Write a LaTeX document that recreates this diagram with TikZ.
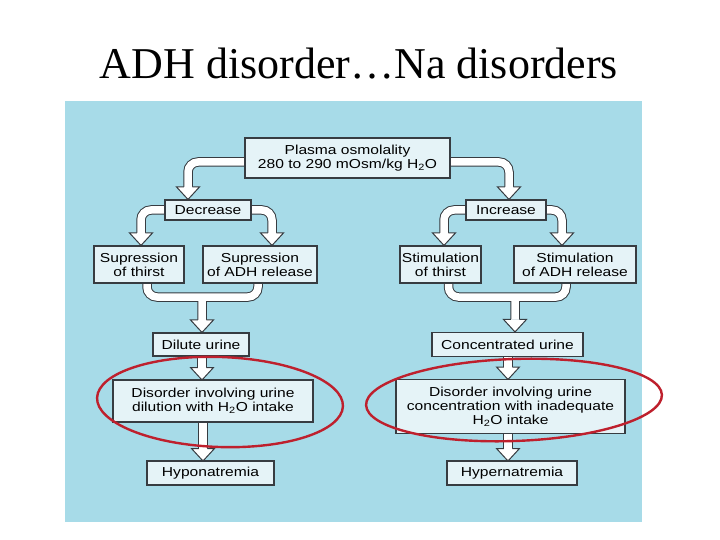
\documentclass[tikz,border=0pt]{standalone}
\usepackage{fontspec}
\setmainfont{Liberation Serif}
\newfontfamily\boxfont[FakeStretch=1.2]{Liberation Sans}
\usetikzlibrary{calc}
\definecolor{panel}{RGB}{167,219,232}
\definecolor{boxfill}{RGB}{229,243,247}
\definecolor{edge}{RGB}{55,60,65}
\definecolor{ringred}{RGB}{190,32,45}
\pgfdeclarelayer{back}
\pgfdeclarelayer{pipes}
\pgfsetlayers{back,pipes,main}
\tikzset{
  box/.style={draw=edge, line width=1.1pt, fill=boxfill, inner sep=0pt, align=center,
    font=\boxfont\fontsize{13}{14}\selectfont},
  pipeouter/.style={draw=edge, line width=9.5pt, rounded corners=10pt},
  pipeinner/.style={draw=white, line width=7.5pt, rounded corners=10pt},
  headstyle/.style={fill=white, draw=edge, line width=1pt, line join=miter},
  ringline/.style={draw=ringred, line width=2.4pt},
}
\newcommand\pipepath[1]{\draw[pipeouter] #1; \draw[pipeinner] #1;}
\newcommand\ahead[1]{\filldraw[headstyle] ($(#1)+(-4.25,-12.5)$) -- ++(-7.25,0) -- (#1) -- ($(#1)+(11.5,-12.5)$) -- ++(-7.25,0);}
\begin{document}
\begin{tikzpicture}[x=1pt,y=-1pt]
\useasboundingbox (0,0) rectangle (720,540);
\begin{pgfonlayer}{back}
  \fill[white] (0,0) rectangle (720,540);
  \fill[panel] (65,101) rectangle (642,522);
\end{pgfonlayer}

\node[font=\fontsize{44}{50}\selectfont, anchor=base] (title) at (359,79) {ADH disorder…Na disorders};

% boxes
\node[box, minimum width=205pt, minimum height=40pt] (plasma) at (347.5,158)
  {Plasma osmolality\\280 to 290 mOsm/kg H\textsubscript{2}O};
\node[box, minimum width=86pt, minimum height=20pt] (dec) at (208,210) {Decrease};
\node[box, minimum width=80pt, minimum height=20pt] (inc) at (506,210) {Increase};
\node[box, minimum width=90pt, minimum height=37pt] (supth) at (139,264.5) {Supression\\of thirst};
\node[box, minimum width=114pt, minimum height=37pt] (supadh) at (260,264.5) {Supression\\of ADH release};
\node[box, minimum width=81pt, minimum height=37pt] (stimth) at (440.5,264.5) {Stimulation\\of thirst};
\node[box, minimum width=122pt, minimum height=37pt] (stimadh) at (575,264.5) {Stimulation\\of ADH release};
\node[box, minimum width=96pt, minimum height=23pt] (dil) at (201,344.5) {Dilute urine};
\node[box, minimum width=151pt, minimum height=24pt] (conc) at (507.5,344.5) {Concentrated urine};
\node[box, minimum width=200pt, minimum height=42pt] (disl) at (213,401) {Disorder involving urine\\dilution with H\textsubscript{2}O intake};
\node[box, minimum width=229pt, minimum height=54pt] (disr) at (510.5,406.5) {Disorder involving urine\\concentration with inadequate\\H\textsubscript{2}O intake};
\node[box, minimum width=127pt, minimum height=24pt] (hypo) at (210.5,473) {Hyponatremia};
\node[box, minimum width=130pt, minimum height=24pt] (hyper) at (512,473) {Hypernatremia};

% arrow tips
\coordinate (tdec) at ($(dec.north)+(-20,0)$);
\coordinate (tinc) at ($(inc.north)+(3,0)$);
\coordinate (tsupth) at ($(supth.north)+(2,0)$);
\coordinate (tsupadh) at ($(supadh.north)+(12,0)$);
\coordinate (tstimth) at ($(stimth.north)+(3.5,0)$);
\coordinate (tstimadh) at ($(stimadh.north)+(-13,0)$);
\coordinate (tdil) at ($(dil.north)+(1,0)$);
\coordinate (tconc) at ($(conc.north)+(7.5,0)$);
\coordinate (tdisl) at (202,380);
\coordinate (tdisr) at (508,379.5);
\coordinate (thypo) at (203,461);
\coordinate (thyper) at (508,461);

\begin{pgfonlayer}{pipes}
  \pipepath{($(plasma.west)+(0,4)$) -| ($(tdec)+(0,-12.5)$)}
  \pipepath{($(plasma.east)+(0,4)$) -| ($(tinc)+(0,-12.5)$)}
  \pipepath{(dec.west) -| ($(tsupth)+(0,-12.5)$)}
  \pipepath{(dec.east) -| ($(tsupadh)+(0,-12.5)$)}
  \pipepath{(inc.west) -| ($(tstimth)+(0,-12.5)$)}
  \pipepath{(inc.east) -| ($(tstimadh)+(0,-12.5)$)}
  \pipepath{($(supth.south)+(8,0)$) |- (202,297) -| ($(supadh.south)+(-2,0)$) (202,295) -- ($(tdil)+(0,-12.5)$)}
  \pipepath{($(stimth.south)+(8,0)$) |- (515,297) -| ($(stimadh.south)+(-9,0)$) (515,295) -- ($(tconc)+(0,-12.5)$)}
  \pipepath{(dil.south -| tdisl) -- ($(tdisl)+(0,-12.5)$)}
  \pipepath{(conc.south -| tdisr) -- ($(tdisr)+(0,-12.5)$)}
  \pipepath{(disl.south -| thypo) -- ($(thypo)+(0,-12.5)$)}
  \pipepath{(disr.south -| thyper) -- ($(thyper)+(0,-12.5)$)}
  \ahead{tdec} \ahead{tinc} \ahead{tsupth} \ahead{tsupadh}
  \ahead{tstimth} \ahead{tstimadh} \ahead{tdil} \ahead{tconc}
  \ahead{tdisl} \ahead{tdisr} \ahead{thypo} \ahead{thyper}
\end{pgfonlayer}

% red rings
\draw[ringline, rotate around={-2:(220,402)}] (220,402) ellipse [x radius=123, y radius=45];
\draw[ringline, rotate around={2:(514,400)}] (514,400) ellipse [x radius=148, y radius=41];
\end{tikzpicture}
\end{document}
